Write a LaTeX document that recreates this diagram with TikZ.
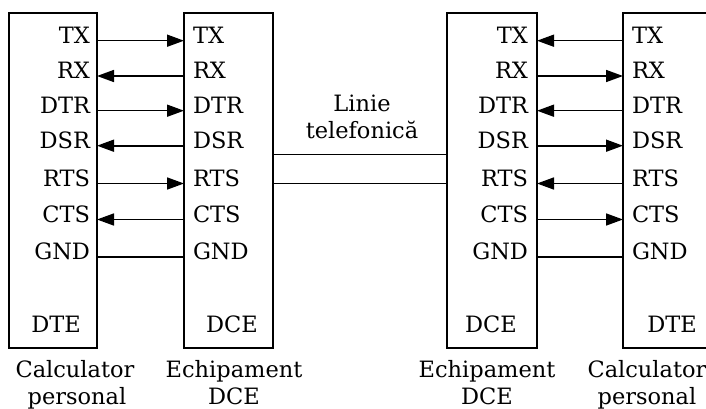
\documentclass[tikz,border=0pt]{standalone}
\usepackage{fontspec}
\setmainfont{DejaVu Serif}
\usetikzlibrary{arrows.meta}

\begin{document}
\begin{tikzpicture}[x=1pt, y=-1pt,
  every node/.style={font=\fontsize{22.5}{27}\selectfont, inner sep=0pt, outer sep=0pt},
  box/.style={draw, line width=2pt, anchor=north west},
  wire/.style={line width=1.6pt},
  fwd/.style={-{Triangle[length=17pt,width=12pt]}},
  bwd/.style={{Triangle[length=17pt,width=12pt]}-},
  plain/.style={}]
\useasboundingbox (0,0) rectangle (706,409);
\clip (0,0) rectangle (706,409);

% the four equipment boxes
\node[box, minimum width=88pt, minimum height=334.5pt] (dteA) at (9,13) {};
\node[box, minimum width=89pt, minimum height=334.5pt] (dceA) at (184,13) {};
\node[box, minimum width=90pt, minimum height=334.5pt] (dceB) at (447,13) {};
\node[box, minimum width=100pt, minimum height=334.5pt] (dteB) at (623,13) {};

% signal names
\foreach \name/\y [count=\i] in {TX/40.7, RX/76, DTR/110.7, DSR/145.7, RTS/183.5, CTS/219.5, GND/257} {
  \node[anchor=mid east] (a\i) at (90,\y) {\name};
  \node[anchor=mid west] (b\i) at (193,\y) {\name};
  \node[anchor=mid east] (c\i) at (528,\y) {\name};
  \node[anchor=mid west] (d\i) at (632,\y) {\name};
}

% local links DTE -- DCE
\foreach \i/\s in {1/fwd,2/bwd,3/fwd,4/bwd,5/fwd,6/bwd,7/plain}
  \draw[wire,\s] (dteA.east |- a\i.mid) -- (dceA.west |- b\i.mid);
\foreach \i/\s in {1/bwd,2/fwd,3/bwd,4/fwd,5/bwd,6/fwd,7/plain}
  \draw[wire,\s] (dceB.east |- c\i.mid) -- (dteB.west |- d\i.mid);

% telephone line between the two modems
\coordinate (telA) at (0,154.3);
\coordinate (telB) at (0,183.5);
\draw[wire] (dceA.east |- telA) -- (dceB.west |- telA);
\draw[wire] (dceA.east |- telB) -- (dceB.west |- telB);
\node[anchor=base] (lin1) at (362,112) {Linie};
\node[anchor=base] (lin2) at (362,139) {telefonică};

% box titles
\node[anchor=base] (tA) at (56,332) {DTE};
\node[anchor=base] (tB) at (232,332) {DCE};
\node[anchor=base] (tC) at (491,332) {DCE};
\node[anchor=base] (tD) at (672,332) {DTE};

% captions under the boxes
\node[anchor=base] (cA1) at (75,377) {Calculator};
\node[anchor=base] (cA2) at (77,404) {personal};
\node[anchor=base] (cB1) at (234,377) {Echipament};
\node[anchor=base] (cB2) at (234,404) {DCE};
\node[anchor=base] (cC1) at (487,377) {Echipament};
\node[anchor=base] (cC2) at (487,404) {DCE};
\node[anchor=base] (cD1) at (647,377) {Calculator};
\node[anchor=base] (cD2) at (647,404) {personal};
\end{tikzpicture}
\end{document}
